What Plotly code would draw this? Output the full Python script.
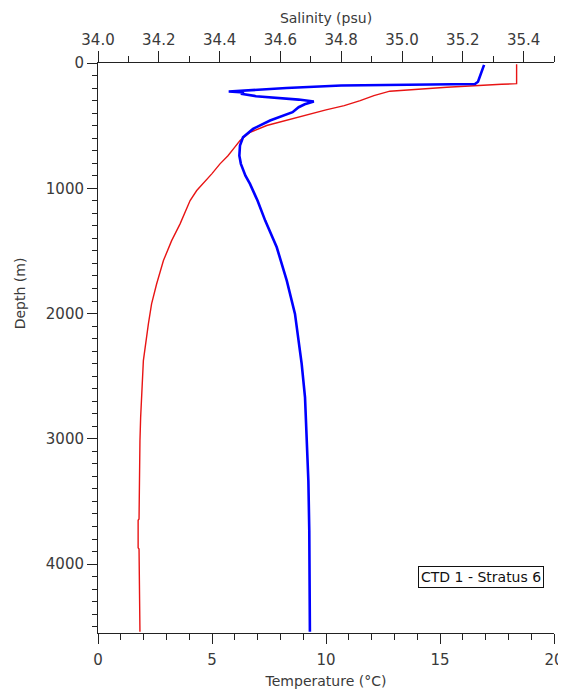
import plotly.graph_objects as go

# Temperature profile (red, bottom axis)
temp_depth = [10, 165, 170, 193, 225, 260, 300, 340, 374, 441, 499, 553, 619, 672, 740,
              805, 885, 1018, 1098, 1284, 1418, 1577, 1764, 1923, 2083, 2376, 2589,
              2829, 3015, 3300, 3640, 3650, 3870, 3880, 4133, 4540]
temp_values = [18.36, 18.36, 17.7, 15.3, 12.8, 12.1, 11.5, 10.8, 10.0, 8.57, 7.4, 6.67,
               6.23, 6.0, 5.7, 5.35, 4.99, 4.33, 4.04, 3.60, 3.23, 2.87, 2.57, 2.35,
               2.21, 1.99, 1.92, 1.87, 1.84, 1.82, 1.80, 1.76, 1.76, 1.80, 1.81, 1.84]

# Salinity profile (blue, top axis)
sal_depth = [15, 50, 150, 168, 180, 200, 228, 235, 245, 265, 292, 308, 330, 353, 393,
             459, 526, 593, 659, 740, 805, 900, 965, 1100, 1258, 1471, 1737, 2003,
             2402, 2669, 3069, 3335, 3734, 4133, 4540]
sal_values = [35.27, 35.265, 35.25, 35.24, 34.80, 34.62, 34.43, 34.48, 34.47, 34.52,
              34.66, 34.71, 34.68, 34.66, 34.64, 34.566, 34.51, 34.477, 34.467, 34.465,
              34.47, 34.485, 34.50, 34.525, 34.55, 34.588, 34.621, 34.648, 34.670,
              34.681, 34.689, 34.692, 34.695, 34.697, 34.697]

temp_ticks = [0, 5, 10, 15, 20]
sal_ticks = [34.0, 34.2, 34.4, 34.6, 34.8, 35.0, 35.2, 35.4]
depth_ticks = [0, 1000, 2000, 3000, 4000]

FONT = "DejaVu Sans"
TXT = "#3a3a3a"
AX = "#222222"

fig = go.Figure()
fig.add_trace(go.Scatter(x=sal_values, y=sal_depth, mode="lines", xaxis="x2", yaxis="y",
                         line=dict(color="rgb(0,0,255)", width=2.6), showlegend=False))
fig.add_trace(go.Scatter(x=temp_values, y=temp_depth, mode="lines", xaxis="x", yaxis="y",
                         line=dict(color="rgb(232,20,20)", width=1.4), showlegend=False))

axis_common = dict(showgrid=False, zeroline=False, showline=True, linecolor=AX, linewidth=1,
                   ticks="outside", tickcolor=AX, tickwidth=1, automargin=False,
                   tickfont=dict(family=FONT, size=15, color=TXT))

# the page body adds an 8px offset, so the figure is 8px smaller on each side
fig.update_layout(
    width=558, height=688,
    margin=dict(l=90, r=12, t=55, b=63),
    paper_bgcolor="white", plot_bgcolor="white",
    font=dict(family=FONT, color=TXT),
    xaxis=dict(range=[0, 20], tickvals=temp_ticks, ticklen=10, ticklabelstandoff=3,
               minor=dict(dtick=1, ticklen=6, ticks="outside", tickcolor=AX),
               title=dict(text="Temperature (°C)", font=dict(family=FONT, size=14, color=TXT), standoff=8),
               **axis_common),
    xaxis2=dict(range=[34.0, 35.5], overlaying="x", side="top", anchor="y",
                tickvals=sal_ticks, ticktext=[f"{v:.1f}" for v in sal_ticks], ticklen=11,
                minor=dict(dtick=0.1, ticklen=6, ticks="outside", tickcolor=AX),
                title=dict(text="Salinity (psu)", font=dict(family=FONT, size=14, color=TXT), standoff=4),
                **axis_common),
    yaxis=dict(range=[4550, 0], tickvals=depth_ticks, ticklen=10,
               minor=dict(dtick=100, ticklen=5, ticks="outside", tickcolor=AX),
               **axis_common),
    annotations=[
        dict(text="Depth (m)", textangle=-90, xref="paper", yref="paper",
             x=-0.171, y=0.596, showarrow=False, xanchor="center", yanchor="middle",
             font=dict(family=FONT, size=14, color=TXT)),
        dict(text="CTD 1 - Stratus 6", xref="paper", yref="paper", x=0.839, y=0.099,
             showarrow=False, xanchor="center", yanchor="middle",
             bordercolor="#111111", borderwidth=1, borderpad=2, bgcolor="white",
             font=dict(family=FONT, size=14, color="#111111")),
    ],
)

fig.write_html("out.html")
